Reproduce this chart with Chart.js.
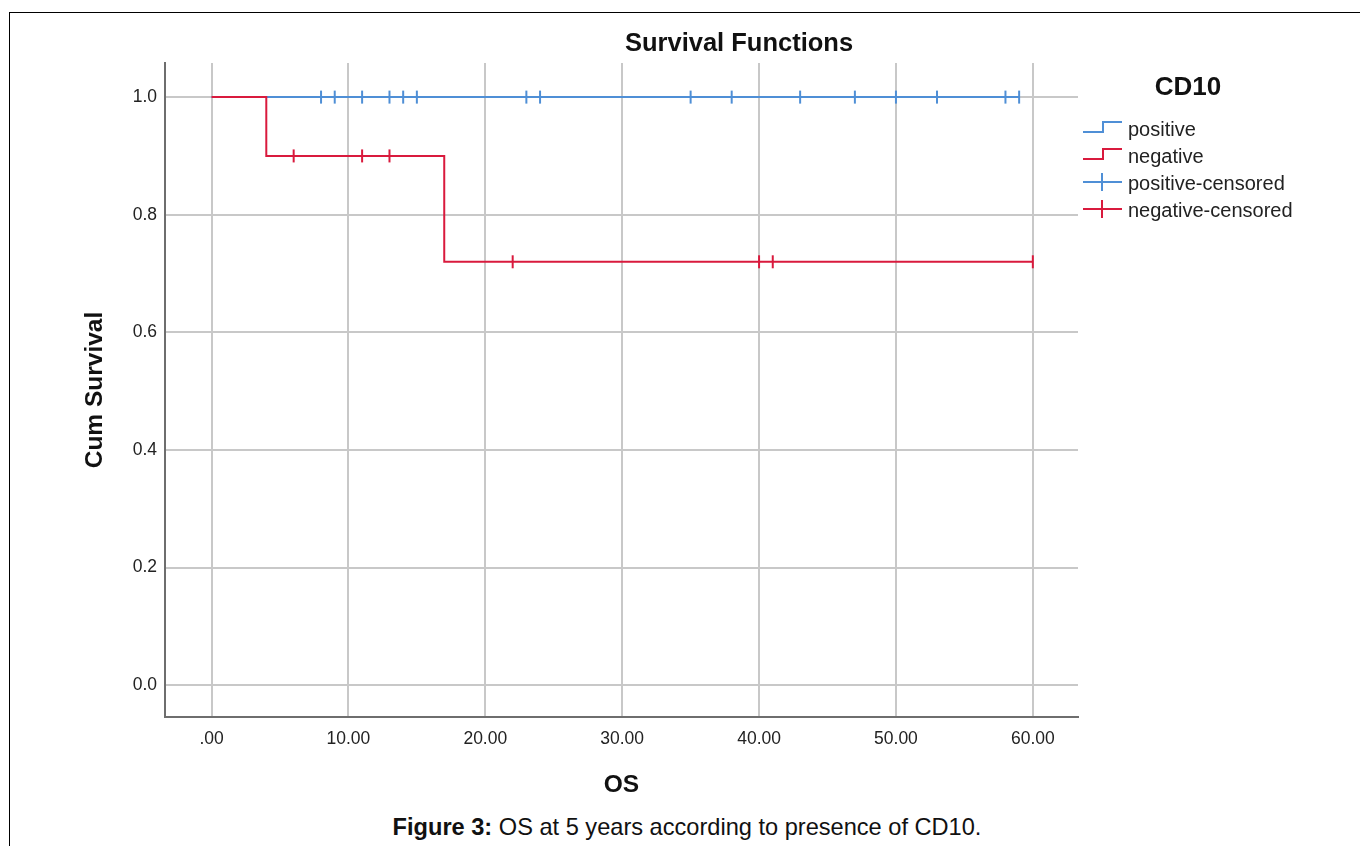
<!DOCTYPE html>
<html>
<head>
<meta charset="utf-8">
<title>Survival Functions</title>
<script src="https://cdn.jsdelivr.net/npm/chart.js@4.4.1/dist/chart.umd.min.js"></script>
<style>
  body { margin: 0; background: #fff; font-family: "Liberation Sans", Arial, sans-serif; }
  .marco {
    position: absolute; left: 9px; top: 12px; width: 1400px; height: 900px;
    border-left: 1px solid #000; border-top: 1px solid #000;
  }
  #grafico { position: absolute; left: 0; top: 0; }
  .pie {
    position: absolute; left: 0; top: 814px; width: 1374px;
    text-align: center; font-size: 23.6px; color: #111;
  }
</style>
</head>
<body>
<div class="marco"></div>
<canvas id="grafico" width="1360" height="800"></canvas>
<div class="pie"><b>Figure 3:</b> OS at 5 years according to presence of CD10.</div>

<script>
// Datos
const tiemposPos = [0, 59];
const survPos = [1, 1];
const tiemposNeg = [0, 4, 17, 60];
const survNeg = [1, 0.9, 0.72, 0.72];
const censuradosPos = [8, 9, 11, 13, 14, 15, 23, 24, 35, 38, 43, 47, 50, 53, 58, 59];
const censuradosNeg = [6, 11, 13, 22, 40, 41, 60];
const ticksX = [0, 10, 20, 30, 40, 50, 60];
const ticksY = [0, 0.2, 0.4, 0.6, 0.8, 1.0];

const azul = '#4f8fd6';
const rojo = '#d91a3d';
const fuente = '"Liberation Sans", Arial, sans-serif';

// valor de supervivencia en un tiempo dado (escalón)
function survEn(tiempos, surv, t) {
  let s = surv[0];
  tiempos.forEach((ti, i) => { if (ti <= t) s = surv[i]; });
  return s;
}

const escalon = (tiempos, surv) => tiempos.map((t, i) => ({ x: t, y: surv[i] }));
const marcas = (cens, tiempos, surv) => cens.map(t => ({ x: t, y: survEn(tiempos, surv, t) }));

// Titulo y leyenda tipo SPSS
const extras = {
  id: 'extras',
  afterDraw(chart) {
    const ctx = chart.ctx;
    ctx.save();
    ctx.fillStyle = '#111';
    ctx.textBaseline = 'middle';
    ctx.textAlign = 'center';
    ctx.font = 'bold 25.5px ' + fuente;
    ctx.fillText('Survival Functions', 739, 44);

    ctx.font = 'bold 26px ' + fuente;
    ctx.fillText('CD10', 1188, 88);

    ctx.textAlign = 'left';
    ctx.font = '20px ' + fuente;
    chart.data.datasets.forEach((ds, i) => {
      const y = 130 + i * 27;
      ctx.strokeStyle = ds.borderColor;
      ctx.lineWidth = 2;
      ctx.beginPath();
      if (ds.showLine !== false) {
        ctx.moveTo(1083, y + 2);
        ctx.lineTo(1103, y + 2);
        ctx.lineTo(1103, y - 8);
        ctx.lineTo(1122, y - 8);
      } else {
        ctx.moveTo(1083, y - 2);
        ctx.lineTo(1122, y - 2);
        ctx.moveTo(1102, y - 11);
        ctx.lineTo(1102, y + 7);
      }
      ctx.stroke();
      ctx.fillStyle = '#222';
      ctx.fillText(ds.label, 1128, y);
    });
    ctx.restore();
  }
};

const rejilla = { color: '#c8c8c8', lineWidth: 2, drawTicks: false };
const borde = { color: '#6e6e6e', width: 2 };

new Chart(document.getElementById('grafico'), {
  type: 'line',
  data: {
    datasets: [
      { label: 'positive', data: escalon(tiemposPos, survPos), borderColor: azul, borderWidth: 2,
        stepped: true, pointRadius: 0, order: 3 },
      { label: 'negative', data: escalon(tiemposNeg, survNeg), borderColor: rojo, borderWidth: 2,
        stepped: true, pointRadius: 0, order: 1 },
      { label: 'positive-censored', data: marcas(censuradosPos, tiemposPos, survPos), borderColor: azul,
        showLine: false, pointStyle: 'line', rotation: 90, pointRadius: 6.5, pointBorderWidth: 2,
        pointBorderColor: azul, order: 2 },
      { label: 'negative-censored', data: marcas(censuradosNeg, tiemposNeg, survNeg), borderColor: rojo,
        showLine: false, pointStyle: 'line', rotation: 90, pointRadius: 6.5, pointBorderWidth: 2,
        pointBorderColor: rojo, order: 0 }
    ]
  },
  options: {
    responsive: false,
    animation: false,
    layout: { padding: { left: 0, top: 63, right: 282, bottom: 0 } },
    plugins: {
      legend: { display: false },
      tooltip: { enabled: false }
    },
    scales: {
      x: {
        type: 'linear',
        min: -3.4,
        max: 63.3,
        afterBuildTicks: s => { s.ticks = ticksX.map(v => ({ value: v })); },
        afterFit: s => { s.height = 83; },
        grid: rejilla,
        border: borde,
        ticks: {
          color: '#222',
          padding: 12,
          font: { family: fuente, size: 17.5 },
          callback: v => v === 0 ? '.00' : v.toFixed(2)
        },
        title: {
          display: true, text: 'OS', color: '#111',
          font: { family: fuente, size: 24.5, weight: 'bold' },
          padding: { top: 0, bottom: 0 }
        }
      },
      y: {
        type: 'linear',
        min: -0.054,
        max: 1.058,
        afterBuildTicks: s => { s.ticks = ticksY.map(v => ({ value: v })); },
        afterFit: s => { s.width = 165; },
        grid: rejilla,
        border: borde,
        ticks: {
          color: '#222',
          padding: 8,
          font: { family: fuente, size: 17.5 },
          callback: v => v.toFixed(1)
        },
        title: {
          display: true, text: 'Cum Survival', color: '#111',
          font: { family: fuente, size: 24.5, weight: 'bold' },
          padding: { top: 81, bottom: 0 }
        }
      }
    }
  },
  plugins: [extras]
});
</script>
</body>
</html>
